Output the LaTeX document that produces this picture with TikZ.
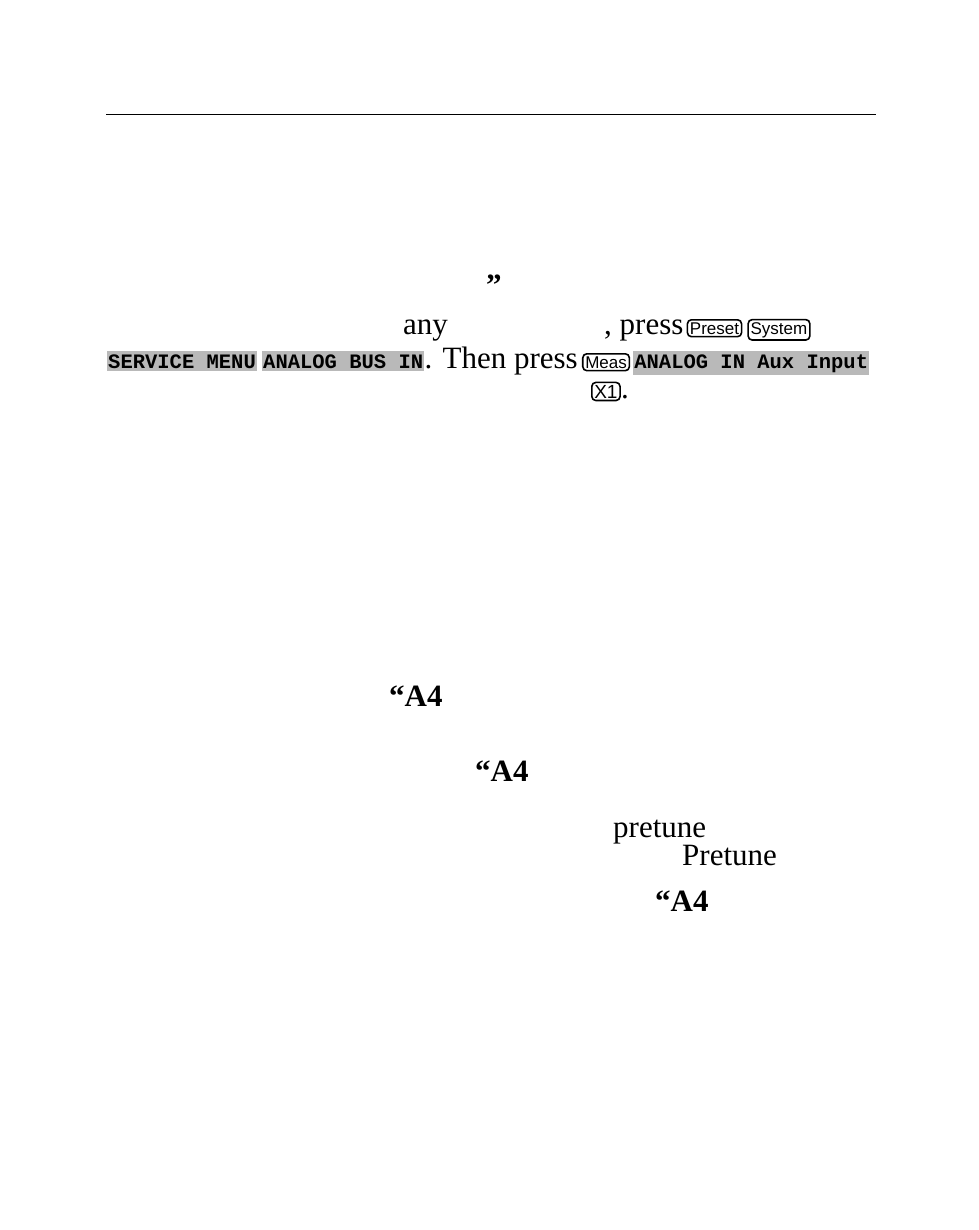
\documentclass[tikz,border=0pt]{standalone}
\usepackage{fontspec}
\setmainfont{Liberation Serif}
\setsansfont{Liberation Sans}
\setmonofont{Liberation Mono}
\usetikzlibrary{positioning}

\tikzset{
    txt/.style={anchor=base west, inner sep=0pt, font=\fontsize{31}{34}\selectfont},
    boldtxt/.style={txt, font=\bfseries\fontsize{31}{34}\selectfont},
    hardkey/.style={draw, line width=1.6pt, rounded corners=4pt, inner sep=2.5pt,
        anchor=base west, font=\sffamily\fontsize{17}{18}\selectfont},
    softkey/.style={fill=gray!55, inner ysep=3pt, inner xsep=1pt, anchor=base west,
        font=\ttfamily\bfseries\fontsize{20.5}{22}\selectfont}
}

\begin{document}
\begin{tikzpicture}[x=1pt, y=-1pt]

    \useasboundingbox (0, 0) rectangle (978, 1230);

    \coordinate (ruleL) at (106, 114);
    \coordinate (ruleR) at (876, 114);
    \draw[line width=0.8pt] (ruleL) -- (ruleR);

    \node[boldtxt] (quote) at (486, 296) {”};

    % step with keys
    \node[txt] (any) at (403, 334) {any};
    \node[txt] (press) at (604, 334) {, press};
    \node[hardkey, right=3pt of press.base east, anchor=base west] (preset) {Preset};
    \node[hardkey, right=5pt of preset.base east, anchor=base west] (system) {System};

    \node[softkey] (svcmenu) at (107, 368) {SERVICE MENU};
    \node[softkey, right=5pt of svcmenu.base east, anchor=base west] (busin) {ANALOG BUS IN};
    \node[txt, right=0pt of busin.base east, anchor=base west] (then) {. Then press};
    \node[hardkey, right=4pt of then.base east, anchor=base west] (meas) {Meas};
    \node[softkey, right=3pt of meas.base east, anchor=base west] (auxin) {ANALOG IN Aux Input};
    \node[hardkey, font=\sffamily\fontsize{19}{20}\selectfont] (xone) at (591, 398) {X1};
    \node[txt, right=0pt of xone.base east, anchor=base west] (dot) {.};

    % remaining fragments
    \node[boldtxt] (afour1) at (389, 706) {“A4};
    \node[boldtxt] (afour2) at (475, 781) {“A4};
    \node[txt] (pretune) at (613, 837) {pretune};
    \node[txt] (Pretune) at (682, 865) {Pretune};
    \node[boldtxt] (afour3) at (655, 911) {“A4};

\end{tikzpicture}
\end{document}
